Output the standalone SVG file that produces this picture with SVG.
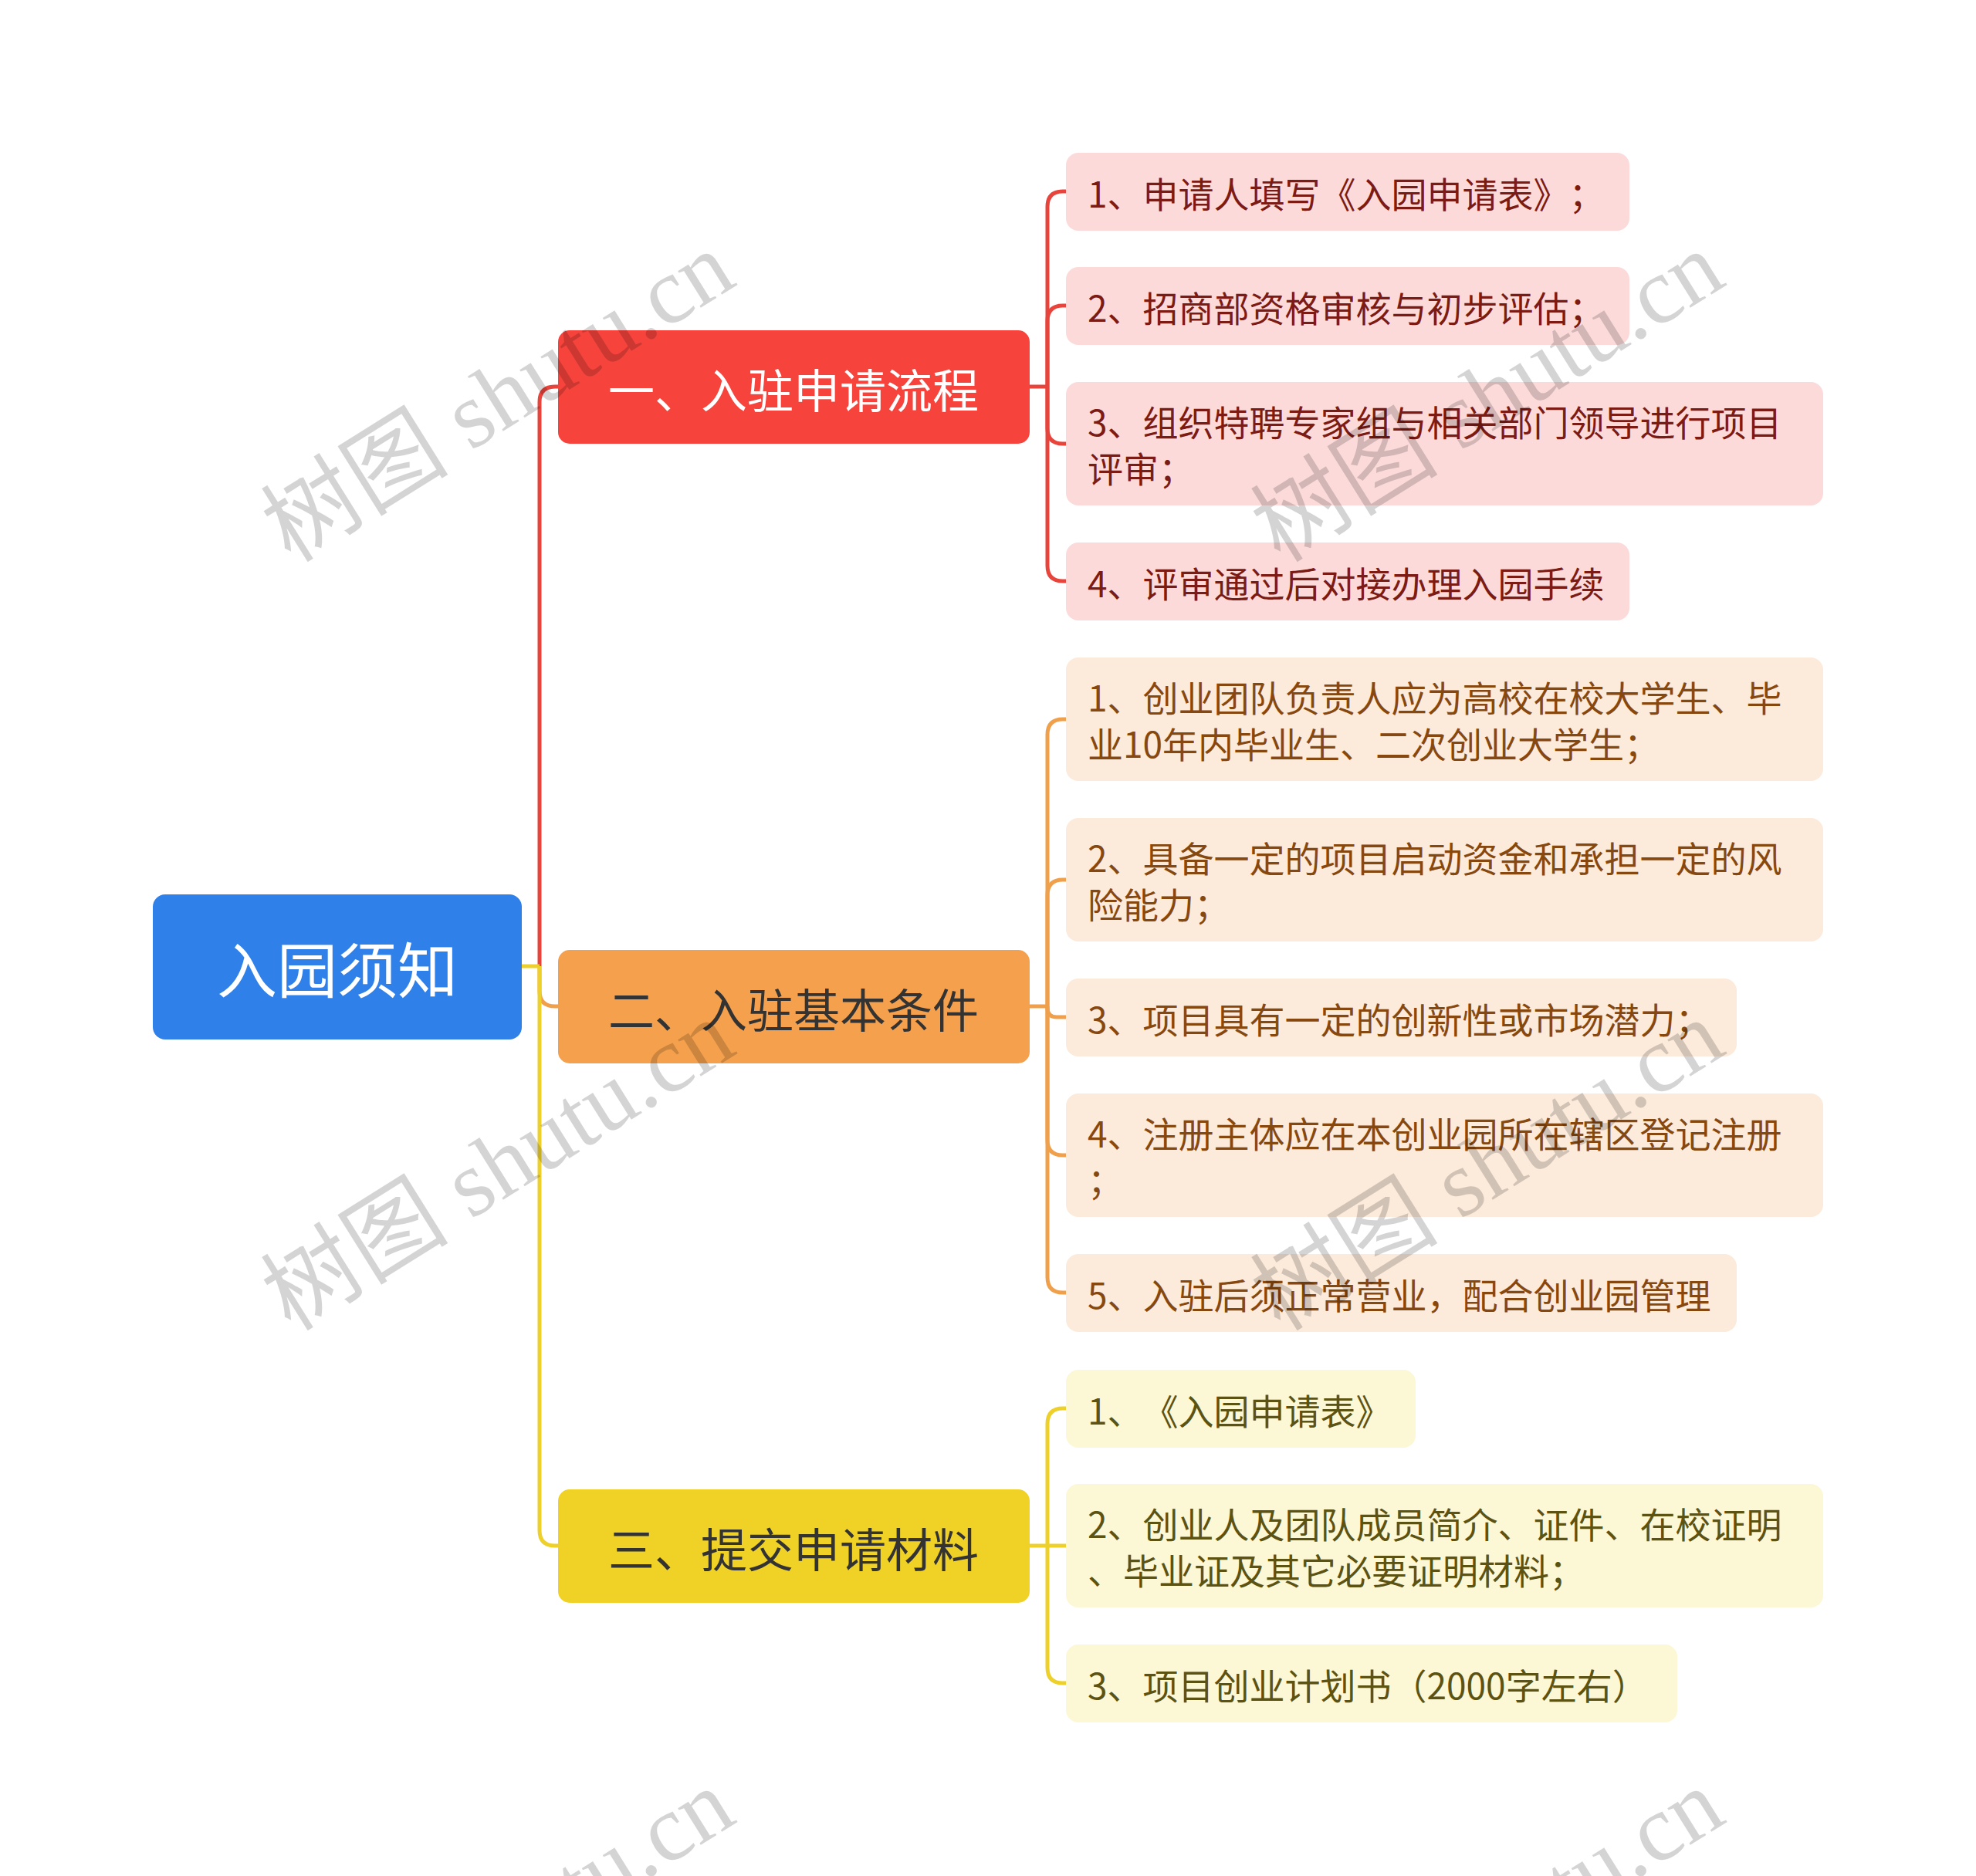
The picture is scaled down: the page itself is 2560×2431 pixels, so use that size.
<svg xmlns="http://www.w3.org/2000/svg" width="2560" height="2431" viewBox="0 0 2560 2431">
<style>
  text { font-family: "Noto Sans CJK SC", "Noto Sans", sans-serif; dominant-baseline: central; text-spacing-trim: space-all; }
  .root-box { fill: #2F80E9; }
  .root-txt { fill: #FFFFFF; font-size: 78px; text-anchor: middle; }
  .b1-box { fill: #F6443C; }
  .b2-box { fill: #F4A04C; }
  .b3-box { fill: #F0D226; }
  .b-txt { font-size: 60px; text-anchor: middle; }
  .l1-box { fill: #FDDADA; }
  .l2-box { fill: #FCEADB; }
  .l3-box { fill: #FCF7D4; }
  .l1-txt { fill: #7C1A14; font-size: 46px; }
  .l2-txt { fill: #87480F; font-size: 46px; }
  .l3-txt { fill: #5C5212; font-size: 46px; }
  .c1 { fill: none; stroke: #E8443B; stroke-width: 5; }
  .c2 { fill: none; stroke: #F0A04B; stroke-width: 5; }
  .c3 { fill: none; stroke: #EED02A; stroke-width: 5; }
  .wm { font-family: "Liberation Serif", "Noto Sans CJK SC", serif; font-size: 122px; fill: #000000; fill-opacity: 0.17; text-anchor: middle; dominant-baseline: central; }
</style>
<rect width="2560" height="2431" fill="#FFFFFF"/>

<g id="connectors">
  <path class="c1" d="M699,1252 V521 Q699,501 719,501 H723"/>
  <path class="c2" d="M699,1252 V1284 Q699,1304 719,1304 H723"/>
  <path class="c3" d="M699,1252 V1983 Q699,2003 719,2003 H723"/>
  <path class="c3" d="M676,1252 H699"/>

  <path class="c1" d="M1334,501 H1357"/>
  <path class="c1" d="M1357,501 V268 Q1357,248 1377,248 H1381"/>
  <path class="c1" d="M1357,501 V416 Q1357,396 1377,396 H1381"/>
  <path class="c1" d="M1357,501 V555 Q1357,575 1377,575 H1381"/>
  <path class="c1" d="M1357,501 V733 Q1357,753 1377,753 H1381"/>

  <path class="c2" d="M1334,1304 H1357"/>
  <path class="c2" d="M1357,1304 V952 Q1357,932 1377,932 H1381"/>
  <path class="c2" d="M1357,1304 V1160 Q1357,1140 1377,1140 H1381"/>
  <path class="c2" d="M1357,1304 V1306 Q1357,1318 1369,1318 H1381"/>
  <path class="c2" d="M1357,1304 V1477 Q1357,1497 1377,1497 H1381"/>
  <path class="c2" d="M1357,1304 V1655 Q1357,1675 1377,1675 H1381"/>

  <path class="c3" d="M1334,2003 H1357"/>
  <path class="c3" d="M1357,2003 V1845 Q1357,1825 1377,1825 H1381"/>
  <path class="c3" d="M1357,2003 H1381"/>
  <path class="c3" d="M1357,2003 V2161 Q1357,2181 1377,2181 H1381"/>
</g>

<g id="root">
  <rect class="root-box" x="198" y="1159" width="478" height="188" rx="16"/>
  <text class="root-txt" x="437" y="1253">入园须知</text>
</g>

<g id="branch1">
  <rect class="b1-box" x="723" y="428" width="611" height="147" rx="15"/>
  <text class="b-txt" x="1028" y="502" fill="#FFFFFF">一、入驻申请流程</text>
</g>
<g id="branch2">
  <rect class="b2-box" x="723" y="1231" width="611" height="147" rx="15"/>
  <text class="b-txt" x="1028" y="1305" fill="#333333">二、入驻基本条件</text>
</g>
<g id="branch3">
  <rect class="b3-box" x="723" y="1930" width="611" height="147" rx="15"/>
  <text class="b-txt" x="1028" y="2004" fill="#333333">三、提交申请材料</text>
</g>

<g id="leaf1-1">
  <rect class="l1-box" x="1381" y="198" width="730" height="101" rx="16"/>
  <text class="l1-txt" x="1409" y="249">1、申请人填写《入园申请表》；</text>
</g>
<g id="leaf1-2">
  <rect class="l1-box" x="1381" y="346" width="730" height="101" rx="16"/>
  <text class="l1-txt" x="1409" y="397">2、招商部资格审核与初步评估；</text>
</g>
<g id="leaf1-3">
  <rect class="l1-box" x="1381" y="495" width="981" height="160" rx="16"/>
  <text class="l1-txt" x="1409" y="545">3、组织特聘专家组与相关部门领导进行项目</text>
  <text class="l1-txt" x="1409" y="605">评审；</text>
</g>
<g id="leaf1-4">
  <rect class="l1-box" x="1381" y="703" width="730" height="101" rx="16"/>
  <text class="l1-txt" x="1409" y="754">4、评审通过后对接办理入园手续</text>
</g>

<g id="leaf2-1">
  <rect class="l2-box" x="1381" y="852" width="981" height="160" rx="16"/>
  <text class="l2-txt" x="1409" y="902">1、创业团队负责人应为高校在校大学生、毕</text>
  <text class="l2-txt" x="1409" y="962">业10年内毕业生、二次创业大学生；</text>
</g>
<g id="leaf2-2">
  <rect class="l2-box" x="1381" y="1060" width="981" height="160" rx="16"/>
  <text class="l2-txt" x="1409" y="1110">2、具备一定的项目启动资金和承担一定的风</text>
  <text class="l2-txt" x="1409" y="1170">险能力；</text>
</g>
<g id="leaf2-3">
  <rect class="l2-box" x="1381" y="1268" width="869" height="101" rx="16"/>
  <text class="l2-txt" x="1409" y="1319">3、项目具有一定的创新性或市场潜力；</text>
</g>
<g id="leaf2-4">
  <rect class="l2-box" x="1381" y="1417" width="981" height="160" rx="16"/>
  <text class="l2-txt" x="1409" y="1467">4、注册主体应在本创业园所在辖区登记注册</text>
  <text class="l2-txt" x="1409" y="1527">；</text>
</g>
<g id="leaf2-5">
  <rect class="l2-box" x="1381" y="1625" width="869" height="101" rx="16"/>
  <text class="l2-txt" x="1409" y="1676">5、入驻后须正常营业，配合创业园管理</text>
</g>

<g id="leaf3-1">
  <rect class="l3-box" x="1381" y="1775" width="453" height="101" rx="16"/>
  <text class="l3-txt" x="1409" y="1826">1、《入园申请表》</text>
</g>
<g id="leaf3-2">
  <rect class="l3-box" x="1381" y="1923" width="981" height="160" rx="16"/>
  <text class="l3-txt" x="1409" y="1973">2、创业人及团队成员简介、证件、在校证明</text>
  <text class="l3-txt" x="1409" y="2033">、毕业证及其它必要证明材料；</text>
</g>
<g id="leaf3-3">
  <rect class="l3-box" x="1381" y="2131" width="792" height="101" rx="16"/>
  <text class="l3-txt" x="1409" y="2182">3、项目创业计划书（2000字左右）</text>
</g>

<g id="watermarks">
  <text class="wm" transform="translate(645,514) rotate(-32)">树图 shutu.cn</text>
  <text class="wm" transform="translate(1927,514) rotate(-32)">树图 shutu.cn</text>
  <text class="wm" transform="translate(645,1510) rotate(-32)">树图 shutu.cn</text>
  <text class="wm" transform="translate(1927,1510) rotate(-32)">树图 shutu.cn</text>
  <text class="wm" transform="translate(645,2506) rotate(-32)">树图 shutu.cn</text>
  <text class="wm" transform="translate(1927,2506) rotate(-32)">树图 shutu.cn</text>
</g>
</svg>
